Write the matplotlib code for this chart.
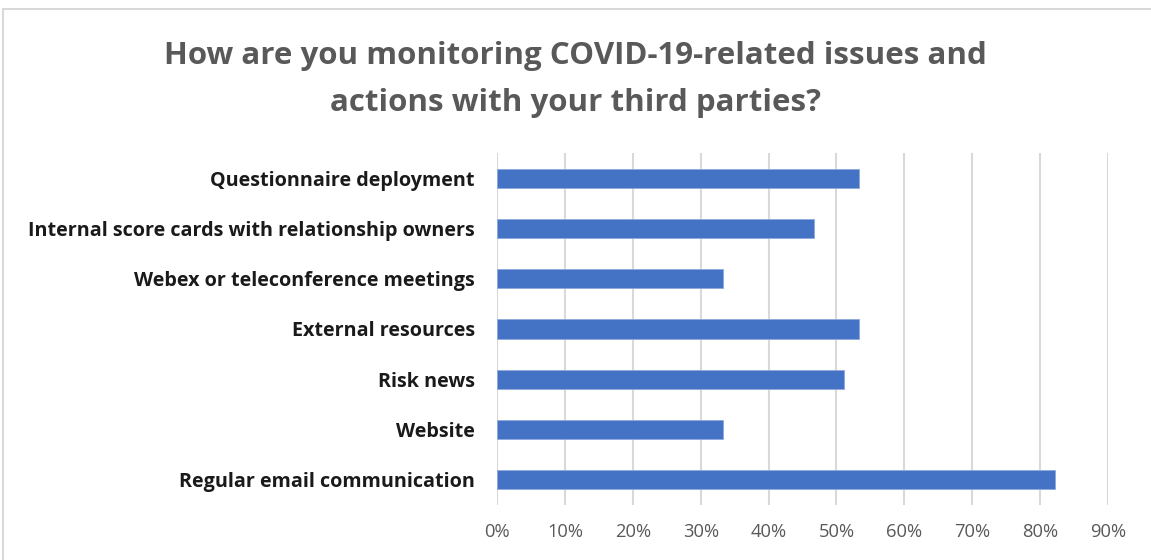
import numpy as np
import matplotlib
matplotlib.use("Agg")
import matplotlib.pyplot as plt
from matplotlib.patches import Rectangle
from matplotlib.ticker import PercentFormatter

categories = [
    "Questionnaire deployment",
    "Internal score cards with relationship owners",
    "Webex or teleconference meetings",
    "External resources",
    "Risk news",
    "Website",
    "Regular email communication",
]
values = [53.3, 46.7, 33.3, 53.3, 51.1, 33.3, 82.2]
xticks = [0, 10, 20, 30, 40, 50, 60, 70, 80, 90]
title = "How are you monitoring COVID-19-related issues and\nactions with your third parties?"

plt.rcParams["font.family"] = ["Open Sans", "DejaVu Sans"]

fig = plt.figure(figsize=(11.51, 5.60), dpi=100)
ax = fig.add_axes([0.4318, 0.0982, 0.5309, 0.6286])

y = np.arange(len(categories))
ax.barh(y, values, height=0.38, color="#4472C4", edgecolor="#8FAADC", linewidth=0.6, zorder=3)
ax.set_yticks(y)
ax.set_yticklabels(categories, fontsize=14.2, fontweight="bold", color="#1a1a1a")
ax.set_ylim(len(categories) - 0.5, -0.5)

ax.set_xlim(0, 90)
ax.set_xticks(xticks)
ax.xaxis.set_major_formatter(PercentFormatter(decimals=0))
ax.tick_params(axis="x", labelsize=13.2, labelcolor="#595959", length=0, pad=13)
ax.tick_params(axis="y", length=0, pad=16)
ax.grid(axis="x", color="#d9d9d9", linewidth=1.5, zorder=0)
for s in ax.spines.values():
    s.set_visible(False)

fig.text(0.5, 0.858, title, ha="center", va="center", fontsize=22.5,
         fontweight="bold", color="#595959", linespacing=1.72)

fig.patches.append(Rectangle((0.003, -0.1), 1.2, 1.084, transform=fig.transFigure,
                             fill=False, edgecolor="#d9d9d9", linewidth=1.5))

fig.savefig("out.png", dpi=100)
